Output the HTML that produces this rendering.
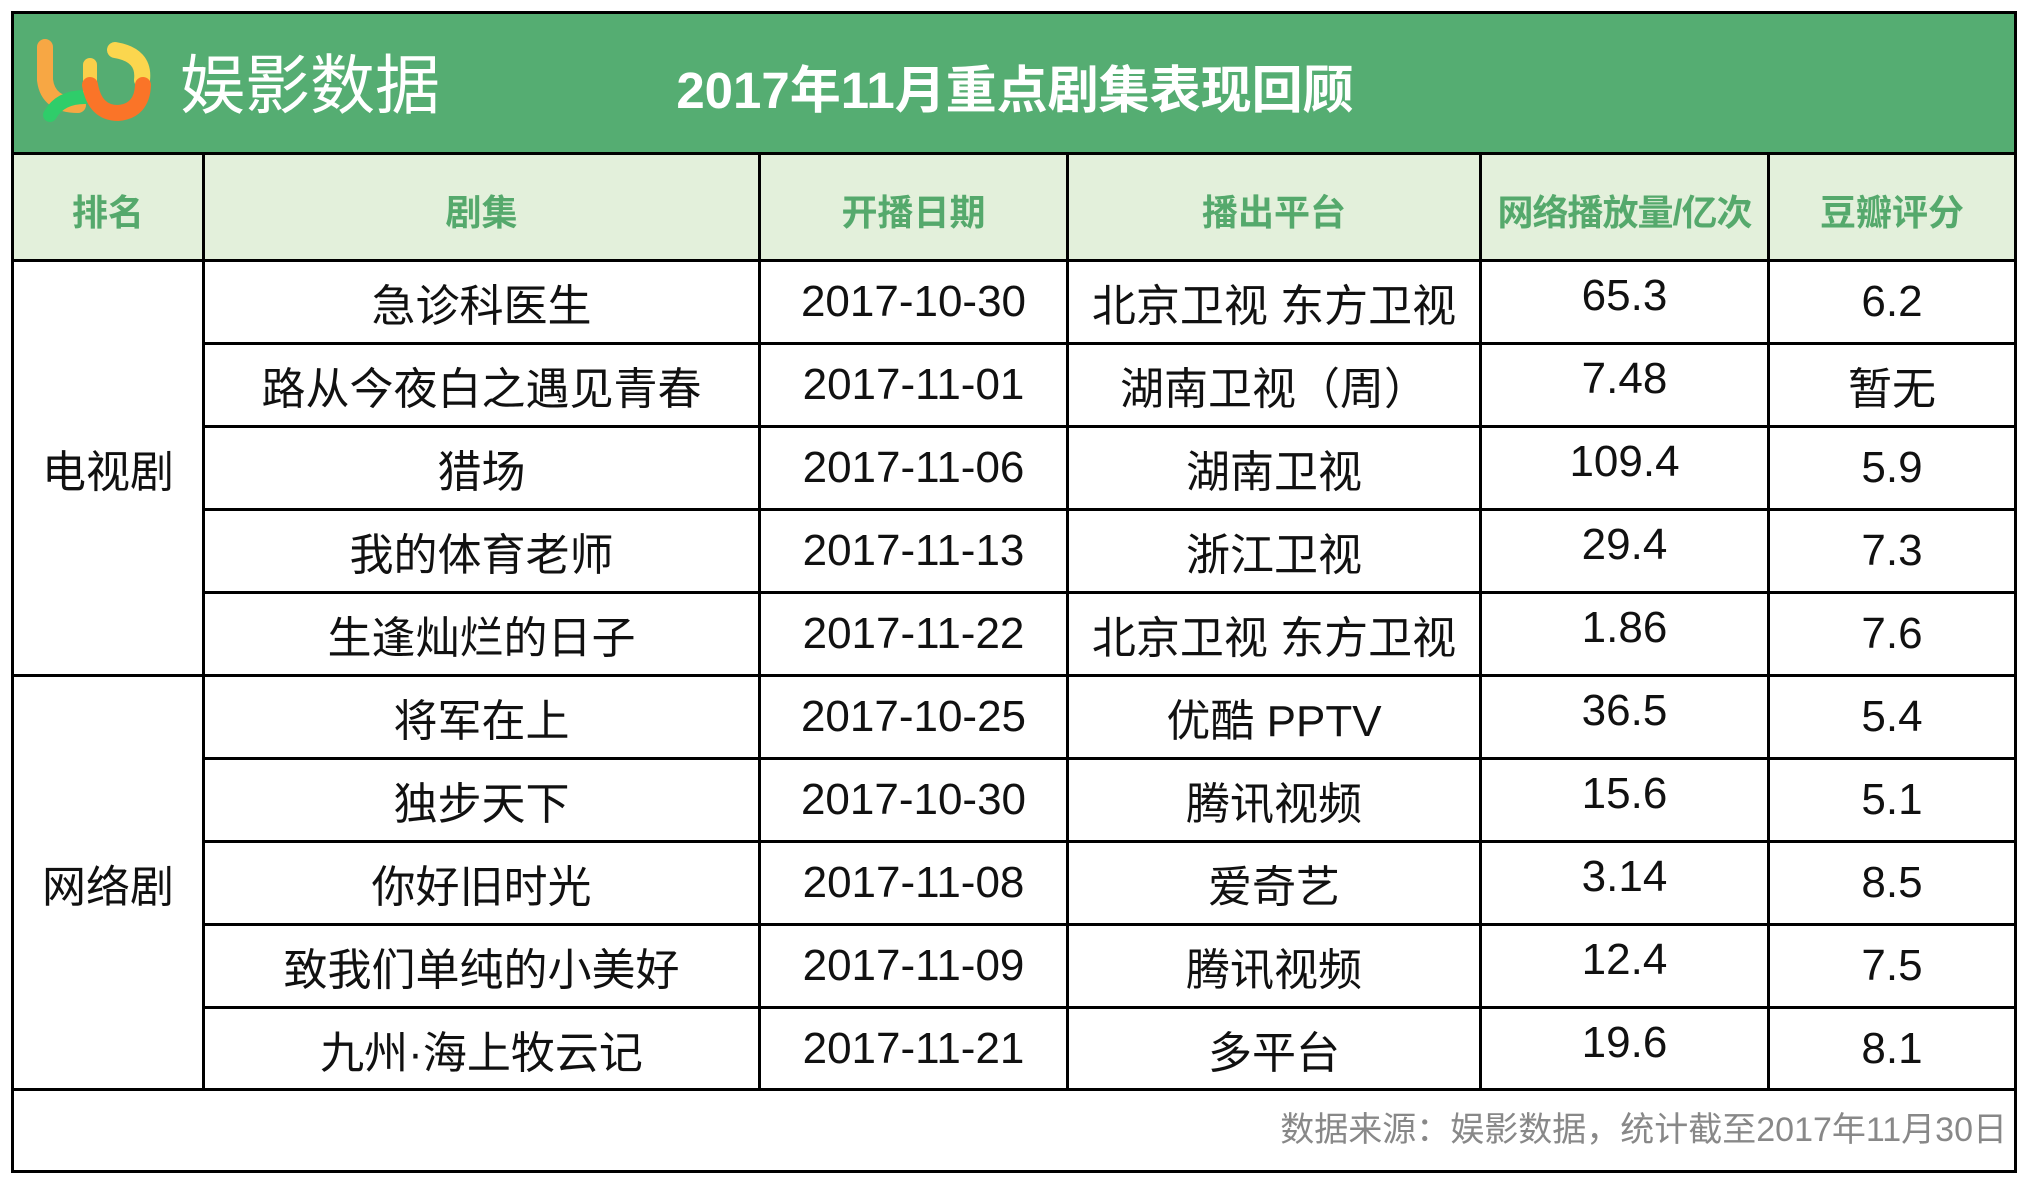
<!DOCTYPE html>
<html><head><meta charset="utf-8"><style>
body{margin:0;width:2027px;height:1181px;background:#fff;position:relative;overflow:hidden;font-family:"Liberation Sans","Noto Sans CJK SC",sans-serif;}
.a{position:absolute}
.h{background:#000}
.c{position:absolute;display:flex;align-items:center;justify-content:center;white-space:nowrap}
.b{font-size:44px;color:#111}
.g{font-size:36px;font-weight:bold;color:#55a96c}
</style></head><body>
<div class="a" style="left:13px;top:13px;width:2002px;height:140px;background:#55ad72"></div>
<div class="a" style="left:13px;top:153px;width:2002px;height:107px;background:#e3f0db"></div>
<!-- logo -->
<svg class="a" style="left:30px;top:35px" width="140" height="90" viewBox="0 0 140 90">
<path d="M15 12 L15 45 Q18 70 48 70" stroke="#f7a744" stroke-width="16" fill="none" stroke-linecap="round"/>
<path d="M20 80 Q30 62 55 62" stroke="#2fcd6a" stroke-width="14" fill="none" stroke-linecap="round"/>
<path d="M60 30 L60 55" stroke="#f9cf4a" stroke-width="14" fill="none" stroke-linecap="round"/>
<path d="M85 15 Q115 20 112 45" stroke="#fbd64e" stroke-width="16" fill="none" stroke-linecap="round"/>
<path d="M60 50 Q65 78 88 78 Q112 76 113 50" stroke="#fa7428" stroke-width="16" fill="none" stroke-linecap="round"/>
</svg>
<div class="c" style="left:180px;top:40px;height:80px;font-size:65px;color:#fff">娱影数据</div>
<div class="c" style="left:620px;top:38px;width:790px;height:96px;font-size:51px;font-weight:bold;color:#fff">2017年11月重点剧集表现回顾</div>
<!-- lines -->
<div class="a h" style="left:11px;top:11px;width:2006px;height:3px"></div>
<div class="a h" style="left:11px;top:1170px;width:2006px;height:3px"></div>
<div class="a h" style="left:11px;top:11px;width:3px;height:1162px"></div>
<div class="a h" style="left:2014px;top:11px;width:3px;height:1162px"></div>
<div class="a h" style="left:11px;top:152px;width:2006px;height:3px"></div>
<div class="a h" style="left:11px;top:259px;width:2006px;height:3px"></div>
<div class="a h" style="left:11px;top:674px;width:2006px;height:3px"></div>
<div class="a h" style="left:11px;top:1088px;width:2006px;height:3px"></div>
<div class="a h" style="left:202px;top:342px;width:1815px;height:3px"></div>
<div class="a h" style="left:202px;top:425px;width:1815px;height:3px"></div>
<div class="a h" style="left:202px;top:508px;width:1815px;height:3px"></div>
<div class="a h" style="left:202px;top:591px;width:1815px;height:3px"></div>
<div class="a h" style="left:202px;top:757px;width:1815px;height:3px"></div>
<div class="a h" style="left:202px;top:840px;width:1815px;height:3px"></div>
<div class="a h" style="left:202px;top:923px;width:1815px;height:3px"></div>
<div class="a h" style="left:202px;top:1006px;width:1815px;height:3px"></div>
<div class="a h" style="left:202px;top:152px;width:3px;height:938px"></div>
<div class="a h" style="left:758px;top:152px;width:3px;height:938px"></div>
<div class="a h" style="left:1066px;top:152px;width:3px;height:938px"></div>
<div class="a h" style="left:1479px;top:152px;width:3px;height:938px"></div>
<div class="a h" style="left:1767px;top:152px;width:3px;height:938px"></div>
<!-- header -->
<div class="c g" style="left:13px;top:160px;width:190px;height:100px">排名</div>
<div class="c g" style="left:204px;top:160px;width:555px;height:100px">剧集</div>
<div class="c g" style="left:760px;top:160px;width:307px;height:100px">开播日期</div>
<div class="c g" style="left:1068px;top:160px;width:412px;height:100px">播出平台</div>
<div class="c g" style="left:1481px;top:160px;width:287px;height:100px;letter-spacing:-1px">网络播放量/亿次</div>
<div class="c g" style="left:1769px;top:160px;width:246px;height:100px">豆瓣评分</div>
<div class="c b" style="left:13px;top:262px;width:190px;height:412px">电视剧</div>
<div class="c b" style="left:13px;top:677px;width:190px;height:412px">网络剧</div>
<div id="rows"></div>
<div class="c" style="right:20px;top:1086px;height:80px;font-size:34px;color:#888;justify-content:flex-end">数据来源：娱影数据，统计截至2017年11月30日</div>
<script>
var d=[["急诊科医生","2017-10-30","北京卫视 东方卫视","65.3","6.2"],["路从今夜白之遇见青春","2017-11-01","湖南卫视（周）","7.48","暂无"],["猎场","2017-11-06","湖南卫视","109.4","5.9"],["我的体育老师","2017-11-13","浙江卫视","29.4","7.3"],["生逢灿烂的日子","2017-11-22","北京卫视 东方卫视","1.86","7.6"],["将军在上","2017-10-25","优酷 PPTV","36.5","5.4"],["独步天下","2017-10-30","腾讯视频","15.6","5.1"],["你好旧时光","2017-11-08","爱奇艺","3.14","8.5"],["致我们单纯的小美好","2017-11-09","腾讯视频","12.4","7.5"],["九州·海上牧云记","2017-11-21","多平台","19.6","8.1"]];
var xs=[[204,555],[760,307],[1068,412],[1481,287],[1769,246]],h="";
d.forEach(function(r,i){var t=262+i*83;r.forEach(function(s,j){var dy=(j==3)?-6:0;h+='<div class="c b" style="left:'+xs[j][0]+'px;top:'+(t+dy)+'px;width:'+xs[j][1]+'px;height:80px">'+s+'</div>';});});
document.getElementById("rows").outerHTML=h;
</script>
</body></html>
